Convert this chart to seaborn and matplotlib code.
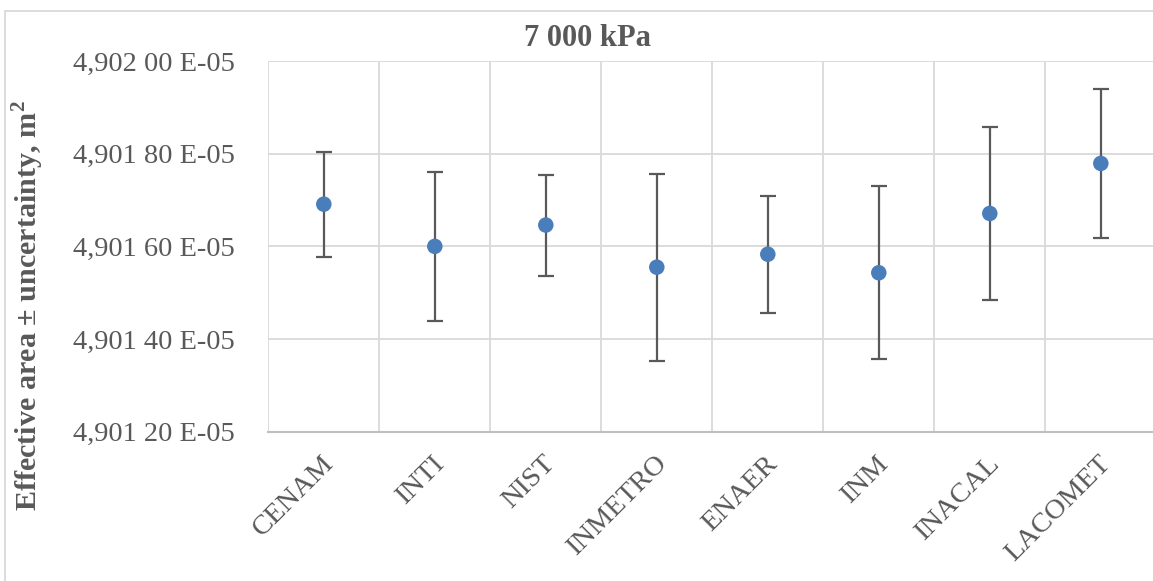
import numpy as np
import pandas as pd
import seaborn as sns
import matplotlib
matplotlib.use("Agg")
import matplotlib.pyplot as plt
from matplotlib.ticker import FixedLocator
from matplotlib.patches import Rectangle
from matplotlib.transforms import ScaledTranslation

# Data (effective area in units of 1E-05 m²)
categories = ["CENAM", "INTI", "NIST", "INMETRO", "ENAER", "INM", "INACAL", "LACOMET"]
area = [4.901691, 4.901600, 4.901646, 4.901555, 4.901583, 4.901543, 4.901671, 4.901779]
uncertainty = [0.000113, 0.000161, 0.000109, 0.000202, 0.000126, 0.000187, 0.000186, 0.000160]
y_ticks = [4.90120, 4.90140, 4.90160, 4.90180, 4.90200]
y_tick_labels = ["4,901 20 E-05", "4,901 40 E-05", "4,901 60 E-05", "4,901 80 E-05", "4,902 00 E-05"]
title = "7 000 kPa"
y_label = "Effective area ± uncertainty, m$^\\mathregular{2}$"

df = pd.DataFrame({"lab": categories, "area": area, "u": uncertainty})

sns.set_theme(style="white")
plt.rcParams["font.family"] = ["Liberation Serif", "DejaVu Serif"]
plt.rcParams["mathtext.fontset"] = "custom"
plt.rcParams["mathtext.rm"] = "Liberation Serif:bold"

W, H = 1153, 581
fig = plt.figure(figsize=(W / 100, H / 100), dpi=100)
ax = fig.add_axes([268.3 / W, 1 - 431.7 / H, 888.0 / W, (431.7 - 61.0) / H])

gray_txt = "#595959"
grid_c = "#d9d9d9"

# outer chart border
fig.patches.append(Rectangle((5 / W, -0.1), 1.2, 1 - 11 / H + 0.1, transform=fig.transFigure,
                             fill=False, edgecolor=grid_c, linewidth=1.3, zorder=0))

ax.errorbar(df["lab"], df["area"], yerr=df["u"], fmt="none", ecolor="#595959",
            elinewidth=1.6, capsize=5.5, capthick=1.6, zorder=3)
sns.scatterplot(data=df, x="lab", y="area", ax=ax, color="#4a7ebb", s=125,
                edgecolor="none", zorder=4, legend=False)

ax.set_xlim(-0.5, len(categories) - 0.5)
ax.set_ylim(y_ticks[0], y_ticks[-1])
ax.yaxis.set_major_locator(FixedLocator(y_ticks))
ax.set_yticklabels(y_tick_labels)
ax.set_xticks(np.arange(len(categories) + 1) - 0.5, minor=False)
ax.set_xticklabels([""] * (len(categories) + 1))
ax.set_xticks(np.arange(len(categories)), minor=True)
ax.set_xticklabels(categories, minor=True, rotation=45, ha="right", va="top",
                   rotation_mode="anchor")
ax.grid(True, which="major", color=grid_c, linewidth=1.3)
ax.tick_params(axis="y", length=0, pad=24, labelsize=20.5, labelcolor=gray_txt)
ax.tick_params(axis="x", which="both", length=0, pad=14, labelsize=20.5, labelcolor=gray_txt)
off = ScaledTranslation(-3 / 100, 0, fig.dpi_scale_trans)
for lbl in ax.get_xticklabels(minor=True):
    lbl.set_transform(lbl.get_transform() + off)
for s in ["top", "right", "left"]:
    ax.spines[s].set_visible(False)
ax.spines["bottom"].set_color("#bfbfbf")
ax.spines["bottom"].set_linewidth(1.5)
ax.set_xlabel("")
ax.set_ylabel("")

fig.text(588 / W, 1 - 38 / H, title, ha="center", va="center", fontsize=22,
         fontweight="bold", color=gray_txt)
fig.text(28 / W, 1 - 306 / H, y_label, ha="center", va="center", rotation=90,
         fontsize=21.7, fontweight="bold", color=gray_txt)

fig.savefig("out.png", dpi=100)
